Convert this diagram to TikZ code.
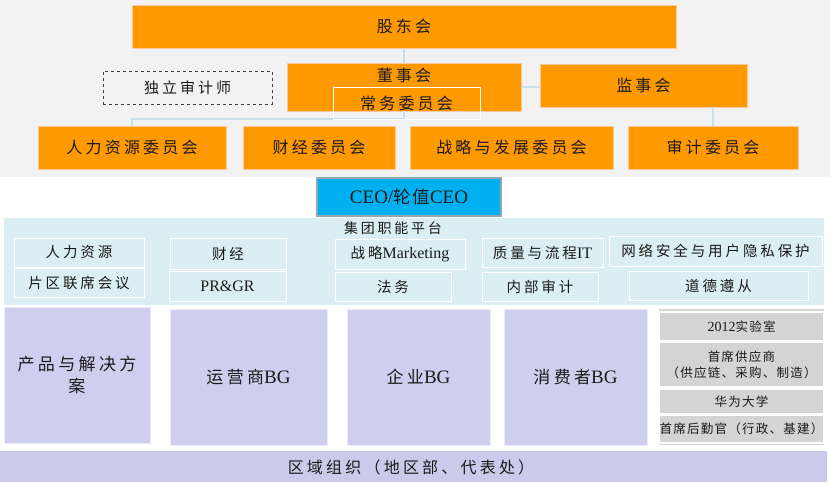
\documentclass[tikz,border=0pt]{standalone}
\usepackage{fontspec}
\setmainfont{Liberation Serif}
\newfontfamily\cjk[LetterSpace=20]{Noto Sans CJK SC}
\newfontfamily\cjkn[LetterSpace=10]{Noto Sans CJK SC}
\definecolor{bggrey}{HTML}{F2F2F2}
\definecolor{orng}{HTML}{FF9900}
\definecolor{orngline}{HTML}{F9CB9C}
\definecolor{ceoblue}{HTML}{00B0F0}
\definecolor{ceoline}{HTML}{8FA9B0}
\definecolor{platblue}{HTML}{DAEEF3}
\definecolor{lav}{HTML}{D0CEEE}
\definecolor{regionlav}{HTML}{CCCAEB}
\definecolor{colgrey}{HTML}{D4D4D4}
\definecolor{connline}{HTML}{C9E0E6}
\definecolor{txt}{HTML}{1A1A1A}
\begin{document}
\begin{tikzpicture}[x=1pt,y=-1pt,
  every node/.style={inner sep=0pt, outer sep=0pt, text=txt, align=center},
  orangebox/.style={fill=orng, draw=orngline, line width=0.8pt},
  clearbox/.style={draw=white, line width=0.9pt},
  platbox/.style={draw=white, line width=1pt, fill=platblue, font=\fontsize{14.5}{16}\selectfont\cjk},
  bgbox/.style={fill=lav, draw=white!60!lav, line width=0.8pt, font=\fontsize{17}{22}\selectfont\cjk},
  colbox/.style={fill=colgrey, draw=white, line width=1.2pt, minimum width=165pt, font=\fontsize{12.5}{16}\selectfont\cjkn},
  conn/.style={draw=connline, line width=1.3pt},
  bigtxt/.style={font=\fontsize{16}{18}\selectfont\cjk}
]
\useasboundingbox (0,0) rectangle (830,482);
\fill[white] (0,0) rectangle (830,482);
% top grey background
\fill[bggrey] (0,0) rectangle (830,177);

% governance
\node[orangebox, minimum width=544pt, minimum height=43pt, bigtxt] (sh) at (404,26.5) {股东会};
\node[orangebox, minimum width=234pt, minimum height=48pt] (board) at (404,87) {};
\node[bigtxt] (boardt) at (404,75) {董事会};
\node[orangebox, minimum width=207pt, minimum height=43pt, bigtxt] (sup) at (643.5,85.5) {监事会};
\node[draw=black!75, dashed, line width=0.8pt, minimum width=169pt, minimum height=33pt, font=\fontsize{15}{18}\selectfont\cjk] (aud) at (187.5,87.5) {独立审计师};

\node[orangebox, minimum width=188pt, minimum height=43pt, bigtxt] (hr) at (132,147.5) {人力资源委员会};
\node[orangebox, minimum width=152pt, minimum height=43pt, bigtxt] (fin) at (319,147.5) {财经委员会};
\node[orangebox, minimum width=203pt, minimum height=43pt, bigtxt] (str) at (511.5,147.5) {战略与发展委员会};
\node[orangebox, minimum width=170pt, minimum height=43pt, bigtxt] (auc) at (713,147.5) {审计委员会};

\coordinate (bus) at (404,119);
\path[conn] (sh.south) -- (board.north);
\path[conn] (board.east |- 0,87) -- (sup.west |- 0,87);
\path[conn] (board.south) -- (bus) -| (hr.north);
\path[conn] (auc.north) -- (auc.north |- sup.south);

\node[clearbox, minimum width=147pt, minimum height=32pt, bigtxt] (stand) at (406.5,103) {常务委员会};

% CEO
\node[fill=ceoblue, draw=ceoline, line width=1.6pt, minimum width=184pt, minimum height=38pt, font=\fontsize{19}{20}\selectfont] (ceo) at (409,197) {CEO/{\cjkn\fontsize{17.5}{20}\selectfont 轮值}CEO};

% platform
\fill[platblue] (4,218) rectangle (824,305);
\node[font=\fontsize{14}{16}\selectfont\cjk] (plat) at (393,228.5) {集团职能平台};
\node[platbox, minimum width=130pt, minimum height=29pt] (p1) at (79,252.5) {人力资源};
\node[platbox, minimum width=130pt, minimum height=29pt] (p2) at (79,282.5) {片区联席会议};
\node[platbox, minimum width=116pt, minimum height=31pt] (p3) at (228,253.5) {财经};
\node[platbox, minimum width=117pt, minimum height=30pt, font=\fontsize{16}{16}\selectfont] (p4) at (227.5,286) {PR\&GR};
\node[platbox, minimum width=130pt, minimum height=30pt] (p5) at (400,254) {战略{\rmfamily\fontsize{16}{16}\selectfont Marketing}};
\node[platbox, minimum width=116pt, minimum height=29pt] (p6) at (393,286.5) {法务};
\node[platbox, minimum width=121pt, minimum height=29pt] (p7) at (542.5,252.5) {质量与流程{\rmfamily\fontsize{16}{16}\selectfont IT}};
\node[platbox, minimum width=116pt, minimum height=29pt] (p8) at (540,286.5) {内部审计};
\node[platbox, minimum width=213pt, minimum height=30pt] (p9) at (715.5,251) {网络安全与用户隐私保护};
\node[platbox, minimum width=179pt, minimum height=29pt] (p10) at (718.5,285.5) {道德遵从};

% business groups
\node[bgbox, minimum width=146pt, minimum height=136pt] (b1) at (77,375) {产品与解决方\\案};
\node[bgbox, minimum width=157pt, minimum height=136pt] (b2) at (248.5,377) {运营商{\rmfamily\fontsize{19}{22}\selectfont BG}};
\node[bgbox, minimum width=143pt, minimum height=136pt] (b3) at (418.5,377) {企业{\rmfamily\fontsize{19}{22}\selectfont BG}};
\node[bgbox, minimum width=143pt, minimum height=136pt] (b4) at (575.5,377) {消费者{\rmfamily\fontsize{19}{22}\selectfont BG}};

% right column
\fill[colgrey] (659,309) rectangle (824,445);
\node[colbox, minimum height=29pt] (r1) at (741.5,326.5) {{\rmfamily\fontsize{14}{16}\selectfont 2012}实验室};
\node[colbox, minimum height=45pt] (r2) at (741.5,364.5) {首席供应商\\（供应链、采购、制造）};
\node[colbox, minimum height=25pt] (r3) at (741.5,401.5) {华为大学};
\node[colbox, minimum height=28pt] (r4) at (741.5,429) {首席后勤官（行政、基建）};

% region bar
\node[fill=regionlav, minimum width=827pt, minimum height=31pt, anchor=north west, inner sep=0pt] (reg) at (0,451) {};
\node[font=\fontsize{16}{18}\selectfont\cjk] (regt) at (411,467) {区域组织（地区部、代表处）};
\end{tikzpicture}
\end{document}
